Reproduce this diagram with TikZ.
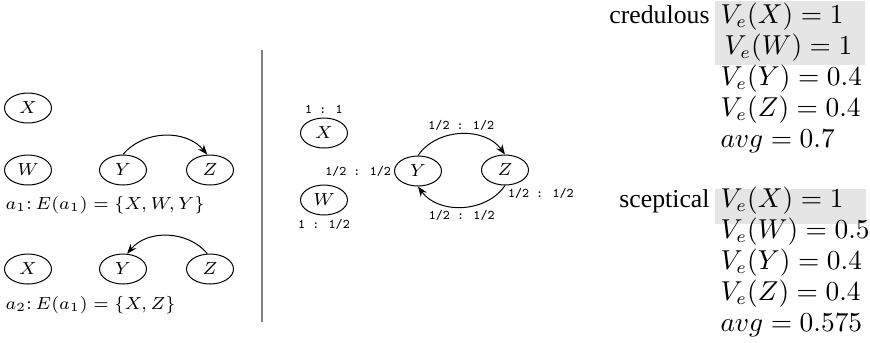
\documentclass[tikz,border=0pt]{standalone}
\usepackage{fontspec}
\newfontfamily\timesfont{Liberation Serif}
\usepackage{tikz}
\usetikzlibrary{arrows.meta,positioning,shapes.geometric}
\definecolor{boxCol}{gray}{0.9}
\definecolor{sepCol}{gray}{0.5}
\tikzset{
  arg/.style={draw, ellipse, minimum width=18.8pt, minimum height=12pt, inner sep=0pt,
              line width=0.4pt, font=\scriptsize},
  att/.style={-{Stealth[length=4pt,width=3pt]}, line width=0.4pt},   % attack
  wlbl/.style={font=\fontsize{5.3}{6}\selectfont\ttfamily, inner sep=1pt},
  ext/.style={font=\fontsize{7.3}{9}\selectfont, inner sep=0pt, anchor=west},
  sem/.style={font=\fontsize{10.3}{12}\selectfont\timesfont, anchor=base east, inner sep=0pt},
  val/.style={font=\fontsize{10.7}{13}\selectfont, anchor=base west, inner sep=0pt},
}

\begin{document}
\begin{tikzpicture}[x=0.4pt,y=-0.4pt]
  \useasboundingbox (0,0) rectangle (870,342);
  \def\xa{28}\def\xb{123}\def\xc{210}
  \def\xv{720}\def\xs{710}

  % left: extensions of the two arguments
  \node[arg] (lX) at (\xa,108) {$X$};
  \node[arg] (lW) at (\xa,170) {$W$};
  \node[arg] (lY) at (\xb,170) {$Y$};
  \node[arg] (lZ) at (\xc,170) {$Z$};
  \draw[att] (lY.north) to[bend left=50] (lZ.100);
  \node[ext] (e1) at (5,205) {$a_1$:\hspace{1.5pt}$E(a_1)=\{X,W,Y\}$};

  \node[arg] (bX) at (\xa,269) {$X$};
  \node[arg] (bY) at (\xb,269) {$Y$};
  \node[arg] (bZ) at (\xc,269) {$Z$};
  \draw[att] (bZ.100) to[bend right=50] (bY.75);
  \node[ext] (e2) at (5,305) {$a_2$:\hspace{1.5pt}$E(a_1)=\{X,Z\}$};

  \draw[sepCol, line width=0.5pt] (262,50) -- (262,322);

  % middle: labelled graph
  \node[arg] (mX) at (324,133) {$X$};
  \node[arg] (mW) at (324,200) {$W$};
  \node[arg] (mY) at (418,171) {$Y$};
  \node[arg] (mZ) at (505,170) {$Z$};
  \node[wlbl, above=0.5pt of mX] (wX) {1 : 1};
  \node[wlbl, below=0.5pt of mW] (wW) {1 : 1/2};
  \node[wlbl, left=0pt of mY] (wY) {1/2 : 1/2};
  \node[wlbl, anchor=north west] (wZ) at (mZ.south) {1/2 : 1/2};
  \draw[att] (mY.north) to[bend left=55] node[wlbl, above] (wYZ) {1/2 : 1/2} (mZ.north);
  \draw[att] (mZ.south) to[bend left=55] node[wlbl, below] (wZY) {1/2 : 1/2} (mY.south);

  % right: values per semantics
  \fill[boxCol] (715,1) rectangle (865,65);
  \fill[boxCol] (715,189) rectangle (866,224);
  \node[sem] (cred) at (\xs,23) {credulous};
  \node[val] (c1) at (\xv,23) {$V_e(X)=1$};
  \node[val] (c2) at (\xv+4,54) {$V_e(W)=1$};
  \node[val] (c3) at (\xv,85) {$V_e(Y)=0.4$};
  \node[val] (c4) at (\xv,116) {$V_e(Z)=0.4$};
  \node[val] (c5) at (\xv,147) {$avg=0.7$};

  \node[sem] (scep) at (\xs,207) {sceptical};
  \node[val] (s1) at (\xv,207) {$V_e(X)=1$};
  \node[val] (s2) at (\xv,238) {$V_e(W)=0.5$};
  \node[val] (s3) at (\xv,269) {$V_e(Y)=0.4$};
  \node[val] (s4) at (\xv,300) {$V_e(Z)=0.4$};
  \node[val] (s5) at (\xv,331) {$avg=0.575$};
\end{tikzpicture}
\end{document}
